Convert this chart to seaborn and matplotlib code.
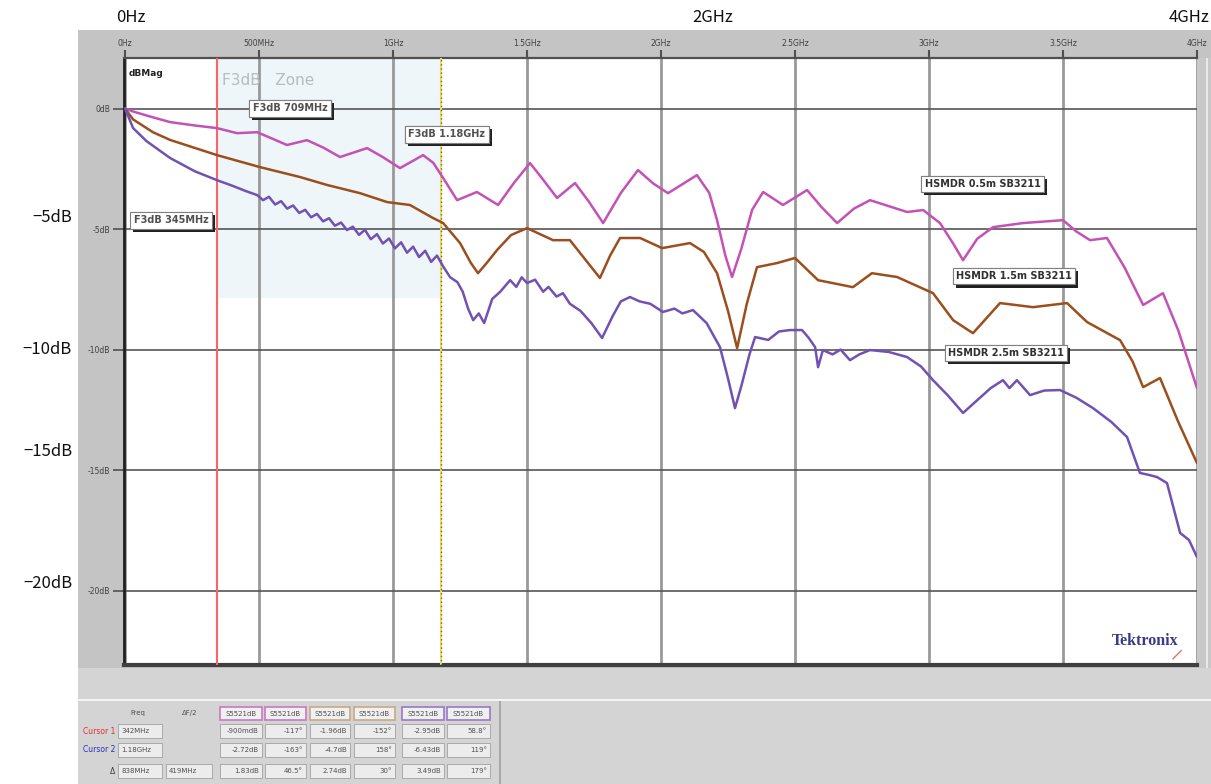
import matplotlib
matplotlib.use("Agg")
import matplotlib.pyplot as plt
import matplotlib.patheffects as pe
from matplotlib.patches import Rectangle
import seaborn as sns
import pandas as pd

# ---------------- data ----------------
pink_f = [0.0, 0.03, 0.10, 0.168, 0.26, 0.343, 0.418, 0.493, 0.55, 0.604, 0.679, 0.74, 0.802, 0.903,
          0.96, 1.026, 1.112, 1.15, 1.187, 1.239, 1.313, 1.392, 1.45, 1.511, 1.56, 1.612, 1.679, 1.73,
          1.784, 1.85, 1.914, 1.97, 2.026, 2.134, 2.18, 2.209, 2.24, 2.265, 2.30, 2.34, 2.381, 2.455,
          2.545, 2.60, 2.657, 2.72, 2.780, 2.918, 2.978, 3.041, 3.09, 3.127, 3.18, 3.239, 3.351, 3.500,
          3.55, 3.601, 3.664, 3.73, 3.799, 3.873, 3.93, 4.000]
pink_db = [0.0, -0.12, -0.35, -0.56, -0.70, -0.81, -1.02, -0.98, -1.25, -1.51, -1.31, -1.62, -2.01, -1.64,
           -2.00, -2.47, -1.93, -2.25, -2.88, -3.80, -3.46, -4.00, -3.10, -2.26, -2.95, -3.71, -3.09, -3.85,
           -4.75, -3.50, -2.55, -3.10, -3.51, -2.76, -3.50, -4.63, -6.10, -6.99, -5.80, -4.20, -3.46, -4.00,
           -3.38, -4.10, -4.75, -4.15, -3.80, -4.29, -4.21, -4.75, -5.60, -6.29, -5.40, -4.92, -4.75, -4.63,
           -5.10, -5.46, -5.37, -6.60, -8.15, -7.66, -9.20, -11.60]

brown_f = [0.0, 0.03, 0.104, 0.168, 0.343, 0.504, 0.653, 0.754, 0.877, 0.978, 1.063, 1.149, 1.187, 1.250,
           1.29, 1.317, 1.35, 1.388, 1.44, 1.500, 1.597, 1.660, 1.72, 1.772, 1.81, 1.847, 1.922, 2.004,
           2.108, 2.16, 2.209, 2.25, 2.284, 2.32, 2.358, 2.433, 2.500, 2.586, 2.716, 2.787, 2.881, 3.015,
           3.090, 3.164, 3.265, 3.388, 3.515, 3.590, 3.713, 3.76, 3.799, 3.862, 3.93, 4.000]
brown_db = [0.0, -0.45, -0.98, -1.30, -1.93, -2.43, -2.84, -3.17, -3.51, -3.88, -4.00, -4.54, -4.75, -5.58,
            -6.40, -6.83, -6.40, -5.87, -5.25, -4.96, -5.46, -5.46, -6.30, -7.03, -6.10, -5.37, -5.37, -5.79,
            -5.58, -5.95, -6.83, -8.40, -9.94, -8.10, -6.58, -6.41, -6.20, -7.12, -7.41, -6.83, -6.99, -7.66,
            -8.78, -9.32, -8.07, -8.24, -8.07, -8.86, -9.61, -10.50, -11.56, -11.18, -13.00, -14.71]

purple_f = [0.0, 0.03, 0.08, 0.168, 0.26, 0.343, 0.40, 0.45, 0.493, 0.515, 0.537, 0.56, 0.582, 0.605,
            0.627, 0.65, 0.672, 0.694, 0.716, 0.739, 0.761, 0.783, 0.806, 0.828, 0.85, 0.873, 0.895,
            0.917, 0.94, 0.962, 0.985, 1.007, 1.03, 1.052, 1.075, 1.097, 1.12, 1.142, 1.164, 1.187,
            1.213, 1.24, 1.26, 1.28, 1.299, 1.32, 1.34, 1.37, 1.40, 1.437, 1.46, 1.48, 1.500, 1.53, 1.56,
            1.58, 1.610, 1.634, 1.66, 1.70, 1.74, 1.780, 1.82, 1.85, 1.884, 1.92, 1.96, 2.007, 2.05, 2.08,
            2.119, 2.17, 2.220, 2.25, 2.276, 2.30, 2.33, 2.351, 2.40, 2.44, 2.481, 2.526, 2.55, 2.575,
            2.586, 2.604, 2.64, 2.67, 2.705, 2.74, 2.780, 2.85, 2.918, 2.97, 3.015, 3.07, 3.127, 3.18,
            3.23, 3.276, 3.30, 3.328, 3.377, 3.43, 3.489, 3.55, 3.612, 3.68, 3.739, 3.787, 3.82, 3.851,
            3.888, 3.937, 3.97, 4.000]
purple_db = [0.0, -0.81, -1.35, -2.05, -2.60, -2.97, -3.20, -3.42, -3.59, -3.80, -3.66, -3.98, -3.84, -4.15,
             -4.02, -4.33, -4.20, -4.51, -4.37, -4.68, -4.55, -4.86, -4.73, -5.04, -4.90, -5.24, -5.03,
             -5.42, -5.21, -5.60, -5.39, -5.80, -5.55, -5.98, -5.73, -6.16, -5.90, -6.36, -6.10, -6.55,
             -7.00, -7.20, -7.60, -8.30, -8.78, -8.50, -8.90, -7.90, -7.60, -7.12, -7.40, -7.00, -7.24, -7.10,
             -7.60, -7.40, -7.80, -7.66, -8.10, -8.40, -8.90, -9.52, -8.60, -8.00, -7.82, -8.00, -8.10,
             -8.44, -8.30, -8.50, -8.36, -8.90, -9.90, -11.20, -12.43, -11.50, -10.20, -9.48, -9.60, -9.25,
             -9.19, -9.19, -9.50, -9.90, -10.73, -10.02, -10.20, -10.00, -10.44, -10.20, -10.02, -10.10,
             -10.31, -10.70, -11.27, -11.90, -12.63, -12.10, -11.60, -11.27, -11.60, -11.27, -11.89,
             -11.70, -11.68, -12.00, -12.43, -13.00, -13.63, -15.12, -15.20, -15.29, -15.54, -17.61,
             -17.90, -18.61]

cables = ["HSMDR 0.5m SB3211", "HSMDR 1.5m SB3211", "HSMDR 2.5m SB3211"]
colors = ["#c452b4", "#9c4f1e", "#7152b3"]

x_ticks = [0.0, 0.5, 1.0, 1.5, 2.0, 2.5, 3.0, 3.5, 4.0]
x_tick_labels = ["0Hz", "500MHz", "1GHz", "1.5GHz", "2GHz", "2.5GHz", "3GHz", "3.5GHz", "4GHz"]
y_ticks = [0, -5, -10, -15, -20]
y_tick_labels = ["0dB", "-5dB", "-10dB", "-15dB", "-20dB"]

cursor1_f = 0.343
cursor2_f = 1.18
zone_bottom_db = -7.86

big_x_labels = ["0Hz", "2GHz", "4GHz"]
big_y_labels = ["\u22125dB", "\u221210dB", "\u221215dB", "\u221220dB"]

table_headers = ["S5521dB"] * 6
table_header_colors = ["#c878c0", "#c878c0", "#c8a888", "#c8a888", "#9878c8", "#9878c8"]
row_labels = ["Cursor 1", "Cursor 2", "\u0394"]
row_label_colors = ["#e03030", "#3030c0", "#404040"]
row_freq = ["342MHz", "1.18GHz", "838MHz"]
row_values = [["-900mdB", "-117\u00b0", "-1.96dB", "-152\u00b0", "-2.95dB", "58.8\u00b0"],
              ["-2.72dB", "-163\u00b0", "-4.7dB", "158\u00b0", "-6.43dB", "119\u00b0"],
              ["1.83dB", "46.5\u00b0", "2.74dB", "30\u00b0", "3.49dB", "179\u00b0"]]

# ---------------- figure ----------------
sns.set_theme(style="white")
plt.rcParams["font.family"] = ["DejaVu Sans"]

W, H = 1211, 784
fig = plt.figure(figsize=(W / 100, H / 100), dpi=100)
fig.patch.set_facecolor("white")


def fx(px):
    return px / W


def fy(py):
    return 1 - py / H


def frect(x0, y0, x1, y1, fc, ec="none", lw=0.8, z=-5):
    fig.patches.append(Rectangle((fx(x0), fy(y1)), fx(x1) - fx(x0), fy(y0) - fy(y1),
                                 transform=fig.transFigure, fc=fc, ec=ec, lw=lw, zorder=z))


# screenshot gray frame
frect(78, 30, W, H, "#c4c4c4")
frect(78, 668, W, H, "#d4d4d4")
frect(78, 699, W, 701, "#f4f4f4")
frect(499, 701, 501, H, "#a8a8a8")
frect(1197, 58, W, 668, "#c8c8c8")
frect(1206, 58, 1208, 668, "#e8e8e8")

ax = fig.add_axes([fx(124), fy(665), fx(1197) - fx(124), fy(58) - fy(665)])
ax.set_zorder(10)
ax.set_facecolor("white")

df = pd.concat([
    pd.DataFrame({"freq": pink_f, "dB": pink_db, "cable": cables[0]}),
    pd.DataFrame({"freq": brown_f, "dB": brown_db, "cable": cables[1]}),
    pd.DataFrame({"freq": purple_f, "dB": purple_db, "cable": cables[2]}),
])
sns.lineplot(data=df, x="freq", y="dB", hue="cable", palette=colors, estimator=None,
             sort=False, lw=1.8, legend=False, ax=ax, zorder=4)
for ln in ax.get_lines():
    ln.set_solid_joinstyle("round")
    ln.set_solid_capstyle("round")

ax.set_xlim(-0.004, 4.0)
ax.set_ylim(-23.09, 2.10)
ax.set_xlabel("")
ax.set_ylabel("")

ax.xaxis.tick_top()
ax.set_xticks(x_ticks)
ax.set_xticklabels(x_tick_labels, fontsize=5.5, color="#404040")
ax.set_yticks(y_ticks)
ax.set_yticklabels(y_tick_labels, fontsize=5.5, color="#404040")
ax.tick_params(axis="x", length=6, width=1.5, color="#505050", pad=1, top=True, bottom=False)
ax.tick_params(axis="y", length=8, width=1.2, color="#505050", pad=2, left=True)

ax.set_axisbelow(True)
ax.grid(axis="x", color="#999999", lw=2.0)
ax.grid(axis="y", color="#555555", lw=1.2)

for side, c, w in [("left", "#202020", 2.0), ("top", "#505050", 1.6), ("bottom", "#404040", 3.0)]:
    ax.spines[side].set_visible(True)
    ax.spines[side].set_color(c)
    ax.spines[side].set_linewidth(w)
ax.spines["right"].set_visible(False)

# F3dB zone
ax.add_patch(Rectangle((cursor1_f, zone_bottom_db), cursor2_f - cursor1_f, 2.10 - zone_bottom_db,
                       fc="#eef6f9", ec="none", zorder=0.3))
ax.axvline(cursor1_f, color="#ff6464", lw=1.5, zorder=3)
ax.axvline(cursor2_f, color="#f0e040", lw=1.5, zorder=3)
ax.axvline(cursor2_f, color="#5a5ac8", lw=1.0, ls=(0, (1, 2)), zorder=3.1)

ax.text(0.004, 0.975, "dBMag", transform=ax.transAxes, fontsize=6.5, fontweight="bold",
        color="#202020", ha="left", va="center")
ax.text(0.36, 1.15, "F3dB   Zone", fontsize=11, color="#b4bcc4", ha="left", va="center", zorder=2)


def boxed(x, y, s, color="#303030"):
    t = ax.text(x, y, s, ha="center", va="center", fontsize=7, fontweight="bold", color=color, zorder=7,
                bbox=dict(boxstyle="square,pad=0.35", fc="white", ec="#808080", lw=0.8))
    t.get_bbox_patch().set_path_effects([
        pe.withSimplePatchShadow(offset=(2.2, -2.2), shadow_rgbFace="#202020", alpha=1.0),
        pe.Normal()])


boxed(0.616, 0.02, "F3dB 709MHz", "#505050")
boxed(1.200, -1.06, "F3dB 1.18GHz", "#505050")
boxed(0.172, -4.63, "F3dB 345MHz", "#505050")
boxed(3.200, -3.13, cables[0])
boxed(3.317, -6.95, cables[1])
boxed(3.287, -10.14, cables[2])

ax.text(0.9515, 0.040, "Tektronix", transform=ax.transAxes, fontsize=11.5, fontweight="bold",
        family="Liberation Serif", color="#3a3a8a", ha="center", va="center", zorder=5)
ax.plot([0.9855, 0.9775], [0.024, 0.010], transform=ax.transAxes, color="#e07070", lw=1.0)

# big annotation labels
bigfont = ["Noto Sans CJK JP", "DejaVu Sans"]
for lab, px in zip(big_x_labels, [131, 713, 1189]):
    fig.text(fx(px), fy(18), lab, ha="center", va="center", fontsize=12, family=bigfont, color="#101010")
for lab, py in zip(big_y_labels, [218, 350, 452, 583]):
    fig.text(fx(72), fy(py), lab, ha="right", va="center", fontsize=12, family=bigfont, color="#101010")

# bottom cursor table
small = dict(fontsize=5, color="#505050", va="center")
fig.text(fx(138), fy(713), "Freq", ha="center", **small)
fig.text(fx(190), fy(713), "\u0394F/2", ha="center", **small)
cols = [(220, 262), (265, 306), (310, 350), (354, 395), (402, 444), (447, 490)]
for (x0, x1), h, c in zip(cols, table_headers, table_header_colors):
    frect(x0, 707, x1, 720, "#f0f0f0", ec=c, lw=1.2, z=1)
    fig.text(fx((x0 + x1) / 2), fy(713.5), h, ha="center", **small)
row_y = [731, 750, 771]
for i, (lab, lc, fr, vals) in enumerate(zip(row_labels, row_label_colors, row_freq, row_values)):
    yy = row_y[i]
    fig.text(fx(115), fy(yy), lab, ha="right", fontsize=5.5, color=lc, va="center")
    frect(118, yy - 7, 162, yy + 7, "#ececec", ec="#a0a0a0", lw=0.6, z=1)
    fig.text(fx(121), fy(yy), fr, ha="left", **small)
    if i == 2:
        frect(166, yy - 7, 212, yy + 7, "#ececec", ec="#a0a0a0", lw=0.6, z=1)
        fig.text(fx(169), fy(yy), "419MHz", ha="left", **small)
    for (x0, x1), v in zip(cols, vals):
        frect(x0, yy - 7, x1, yy + 7, "#ececec", ec="#a0a0a0", lw=0.6, z=1)
        fig.text(fx(x1 - 3), fy(yy), v, ha="right", **small)

fig.savefig("out.png", dpi=100)
